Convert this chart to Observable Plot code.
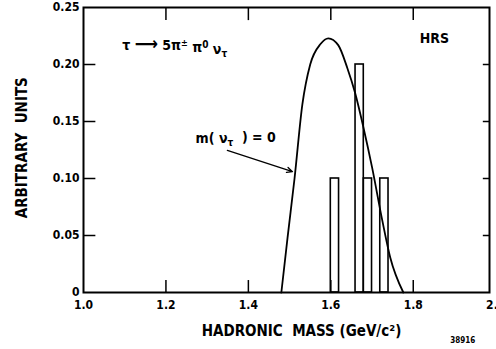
<!DOCTYPE html>
<html>
<head>
<meta charset="utf-8">
<script src="https://cdn.jsdelivr.net/npm/d3@7"></script>
<script src="https://cdn.jsdelivr.net/npm/@observablehq/plot@0.6"></script>
<style>
  html, body { margin: 0; padding: 0; background: #fff; }
  svg { display: block; }
</style>
</head>
<body>
<div id="chart"></div>
<script>
// Histogram bins (hadronic mass, GeV/c^2) and heights (arbitrary units)
const binLo = [1.60, 1.66, 1.68, 1.72];
const binHi = [1.62, 1.68, 1.70, 1.74];
const binHeight = [0.10, 0.20, 0.10, 0.10];

// Theory curve for m(nu_tau) = 0
const curveMass  = [1.480, 1.495, 1.512, 1.531, 1.550, 1.575, 1.594, 1.618, 1.640, 1.659, 1.679, 1.700, 1.725, 1.744, 1.776];
const curveValue = [0.000, 0.048, 0.100, 0.165, 0.200, 0.218, 0.223, 0.217, 0.197, 0.175, 0.145, 0.110, 0.063, 0.031, 0.000];

// Tick labels
const xTicks = [1.0, 1.2, 1.4, 1.6, 1.8, 2.0];
const yTicks = [0, 0.05, 0.10, 0.15, 0.20, 0.25];

const bars = binLo.map((lo, i) => ({lo, hi: binHi[i], h: binHeight[i]}));
const curve = curveMass.map((m, i) => ({m, v: curveValue[i]}));

const FONT = "'DejaVu Sans Condensed', 'Liberation Sans', 'DejaVu Sans', sans-serif";
const titleText = "τ⟶5π± π⁰ ντ";
const annText = "m( ντ ) = 0";

const chart = Plot.plot({
  width: 496,
  height: 349,
  marginLeft: 83,
  marginRight: 7,
  marginTop: 7,
  marginBottom: 57,
  style: {fontFamily: FONT, fontSize: "12px", color: "#000", background: "#fff", overflow: "visible"},
  x: {domain: [1.0, 1.985], axis: null},
  y: {domain: [0, 0.25], axis: null},
  marks: [
    // tick labels
    Plot.axisX(xTicks, {anchor: "bottom", tickSize: 0, tickPadding: 8, tickFormat: d => d.toFixed(1), fontSize: 12, fontWeight: "bold", label: null}),
    Plot.axisY(yTicks, {anchor: "left", tickSize: 0, tickPadding: 4, tickFormat: d => d === 0 ? "0" : d.toFixed(2), fontSize: 12, fontWeight: "bold", label: null}),
    // inward ticks
    Plot.ruleX(xTicks.slice(1, 5), {y1: 0, y2: 0.0105, stroke: "#000", strokeWidth: 1.5}),
    Plot.ruleX(xTicks.slice(1, 5), {y1: 0.2385, y2: 0.25, stroke: "#000", strokeWidth: 1.5}),
    Plot.ruleY(yTicks.slice(1, 5), {x1: 1.0, x2: 1.03, stroke: "#000", strokeWidth: 1.5}),
    Plot.ruleY(yTicks.slice(1, 5), {x1: 1.97, x2: 1.985, stroke: "#000", strokeWidth: 1.5}),
    Plot.frame({stroke: "#000", strokeWidth: 2}),
    // histogram
    Plot.rectY(bars, {x1: "lo", x2: "hi", y1: 0, y2: "h", fill: "none", stroke: "#000", strokeWidth: 1.6}),
    // curve
    Plot.line(curve, {x: "m", y: "v", curve: "monotone-x", stroke: "#000", strokeWidth: 1.8}),
    // annotation arrow
    Plot.arrow([{}], {x1: 1.349, y1: 0.1246, x2: 1.507, y2: 0.106, stroke: "#000", strokeWidth: 1.3, headLength: 7, headAngle: 50}),
    Plot.text([annText], {x: 1.272, y: 0.135, text: d => d, textAnchor: "start", fontSize: 14, fontWeight: "bold"}),
    Plot.text([titleText], {x: 1.094, y: 0.2167, text: d => d, textAnchor: "start", fontSize: 14, fontWeight: "bold"}),
    Plot.text(["HRS"], {x: 1.8515, y: 0.2228, text: d => d, fontSize: 14, fontWeight: "bold"}),
    // axis titles
    Plot.text(["HADRONIC  MASS (GeV/c²)"], {x: 1.529, y: -0.034, text: d => d, fontSize: 15, fontWeight: "bold"}),
    Plot.text(["ARBITRARY  UNITS"], {x: 0.852, y: 0.127, text: d => d, rotate: -90, fontSize: 15, fontWeight: "bold"}),
    Plot.text(["38916"], {x: 1.92, y: -0.042, text: d => d, fontSize: 8, fontWeight: "bold"})
  ]
});

// Rich text (subscripts/superscripts) for the two formula labels
const svg = d3.select(chart);
svg.selectAll("text").each(function () {
  const t = this.textContent;
  const sel = d3.select(this);
  if (t === titleText) {
    sel.text(null);
    sel.append("tspan").text("τ ");
    sel.append("tspan").attr("font-size", "18").text("⟶");
    sel.append("tspan").text(" 5π");
    sel.append("tspan").attr("dy", "-0.4em").attr("font-size", "9").text("±");
    sel.append("tspan").attr("dy", "0.4em").text(" π");
    sel.append("tspan").attr("dy", "-0.4em").attr("font-size", "10").text("0");
    sel.append("tspan").attr("dy", "0.4em").text(" ν");
    sel.append("tspan").attr("dy", "0.3em").attr("font-size", "10").text("τ");
  } else if (t === annText) {
    sel.text(null);
    sel.append("tspan").text("m( ν");
    sel.append("tspan").attr("dy", "0.3em").attr("font-size", "10").text("τ");
    sel.append("tspan").attr("dy", "-0.3em").text("  ) = 0");
  }
});

document.getElementById("chart").appendChild(chart);
</script>
</body>
</html>
